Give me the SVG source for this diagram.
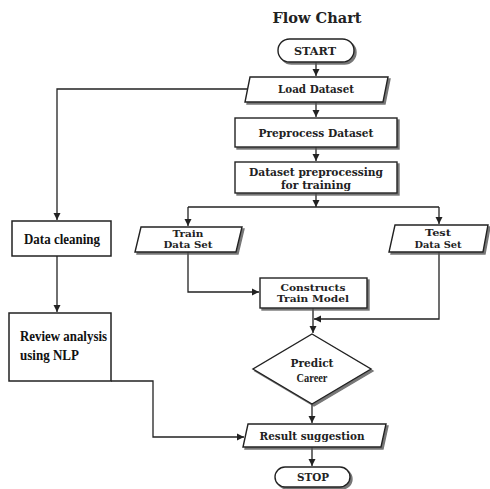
<svg xmlns="http://www.w3.org/2000/svg" width="490" height="489" viewBox="0 0 490 489">
<style>
.n{fill:#fff;stroke:#222;stroke-width:1.4;filter:url(#sh)}
.p{fill:#fff;stroke:#222;stroke-width:1.5}
.t{font-family:"DejaVu Serif","Liberation Serif",serif;font-weight:bold;font-size:11px;fill:#222;text-anchor:middle}
.s{font-size:9.5px}
.tt{font-family:"Liberation Serif","Times New Roman",serif;font-weight:bold;font-size:15px;fill:#111}
.c{fill:none;stroke:#222;stroke-width:1.3}
</style>
<defs>
<filter id="sh" x="-10%" y="-20%" width="130%" height="150%">
<feDropShadow dx="2" dy="2" stdDeviation="0.6" flood-color="#555" flood-opacity="0.8"/>
</filter>
<marker id="ah" markerWidth="8" markerHeight="8" refX="7" refY="4" orient="auto" markerUnits="userSpaceOnUse">
<path d="M0,0.5 L7,4 L0,7.5 Z" fill="#222"/>
</marker>
</defs>
<rect width="490" height="489" fill="#fff"/>
<text class="t" x="317" y="23" style="font-size:14px" textLength="89" lengthAdjust="spacingAndGlyphs">Flow Chart</text>

<g id="connectors">
<path class="c" d="M316,62 V76" marker-end="url(#ah)"/>
<path class="c" d="M247,89 H57 V220" marker-end="url(#ah)"/>
<path class="c" d="M316,102 V117" marker-end="url(#ah)"/>
<path class="c" d="M316,147 V161" marker-end="url(#ah)"/>
<path class="c" d="M316,193 V207"  marker-end="url(#ah)"/>
<path class="c" d="M188,207 H439"/>
<path class="c" d="M188,207 V226" marker-end="url(#ah)"/>
<path class="c" d="M439,207 V224" marker-end="url(#ah)"/>
<path class="c" d="M188,252 V292 H259" marker-end="url(#ah)"/>
<path class="c" d="M439,252 V319 H314" marker-end="url(#ah)"/>
<path class="c" d="M313,308 V333" marker-end="url(#ah)"/>
<path class="c" d="M57,256 V312" marker-end="url(#ah)"/>
<path class="c" d="M111,381 H153 V437 H244" marker-end="url(#ah)"/>
<path class="c" d="M312,404 V423" marker-end="url(#ah)"/>
<path class="c" d="M312,447 V466" marker-end="url(#ah)"/>
</g>

<g id="start">
<rect class="n" x="278" y="39" width="76" height="23" rx="11.5"/>
<text class="t" x="315" y="54.5" textLength="42" lengthAdjust="spacingAndGlyphs">START</text>
</g>
<g id="load">
<polygon class="n" points="250,77 388,77 383,102 245,102"/>
<text class="t" x="316" y="93" textLength="76" lengthAdjust="spacingAndGlyphs">Load Dataset</text>
</g>
<g id="preprocess">
<rect class="n" x="235" y="118" width="162" height="29"/>
<text class="t" x="316" y="136.5" textLength="115" lengthAdjust="spacingAndGlyphs">Preprocess Dataset</text>
</g>
<g id="prep-training">
<rect class="n" x="235" y="162" width="162" height="31"/>
<text class="t" x="316" y="176" textLength="134" lengthAdjust="spacingAndGlyphs">Dataset preprocessing</text>
<text class="t" x="316" y="189" textLength="70" lengthAdjust="spacingAndGlyphs">for training</text>
</g>
<g id="train">
<polygon class="n" points="141,227 242,227 236,252 135,252"/>
<text class="t s" x="188" y="236.5" textLength="31" lengthAdjust="spacingAndGlyphs">Train</text>
<text class="t s" x="188" y="248" textLength="49" lengthAdjust="spacingAndGlyphs">Data Set</text>
</g>
<g id="test">
<polygon class="n" points="395,225 488,225 483,252 389,252"/>
<text class="t s" x="438" y="236" textLength="26" lengthAdjust="spacingAndGlyphs">Test</text>
<text class="t s" x="438" y="247.5" textLength="47" lengthAdjust="spacingAndGlyphs">Data Set</text>
</g>
<g id="construct">
<rect class="n" x="260" y="278" width="107" height="30"/>
<text class="t s" x="313" y="290.5" textLength="65" lengthAdjust="spacingAndGlyphs">Constructs</text>
<text class="t s" x="313" y="302" textLength="72" lengthAdjust="spacingAndGlyphs">Train Model</text>
</g>
<g id="predict">
<polygon class="n" points="312,334 371,369 312,404 253,369"/>
<text class="t" x="312" y="367" textLength="43" lengthAdjust="spacingAndGlyphs">Predict</text>
<text class="t" x="312" y="382" style="font-family:'Liberation Serif',serif;font-size:12px" textLength="31" lengthAdjust="spacingAndGlyphs">Career</text>
</g>
<g id="result">
<polygon class="n" points="248,424 386,424 381,447 243,447"/>
<text class="t" x="312" y="439.5" textLength="105" lengthAdjust="spacingAndGlyphs">Result suggestion</text>
</g>
<g id="stop">
<rect class="n" x="275" y="467" width="75" height="20" rx="10"/>
<text class="t" x="313" y="481" textLength="32" lengthAdjust="spacingAndGlyphs">STOP</text>
</g>
<g id="cleaning">
<rect class="p" x="12" y="221" width="99" height="35"/>
<text class="tt" x="24" y="244" textLength="76" lengthAdjust="spacingAndGlyphs">Data cleaning</text>
</g>
<g id="review">
<rect class="p" x="9" y="313" width="102" height="68"/>
<text class="tt" x="20" y="341" textLength="87" lengthAdjust="spacingAndGlyphs">Review analysis</text>
<text class="tt" x="20" y="360" textLength="59" lengthAdjust="spacingAndGlyphs">using NLP</text>
</g>
</svg>
